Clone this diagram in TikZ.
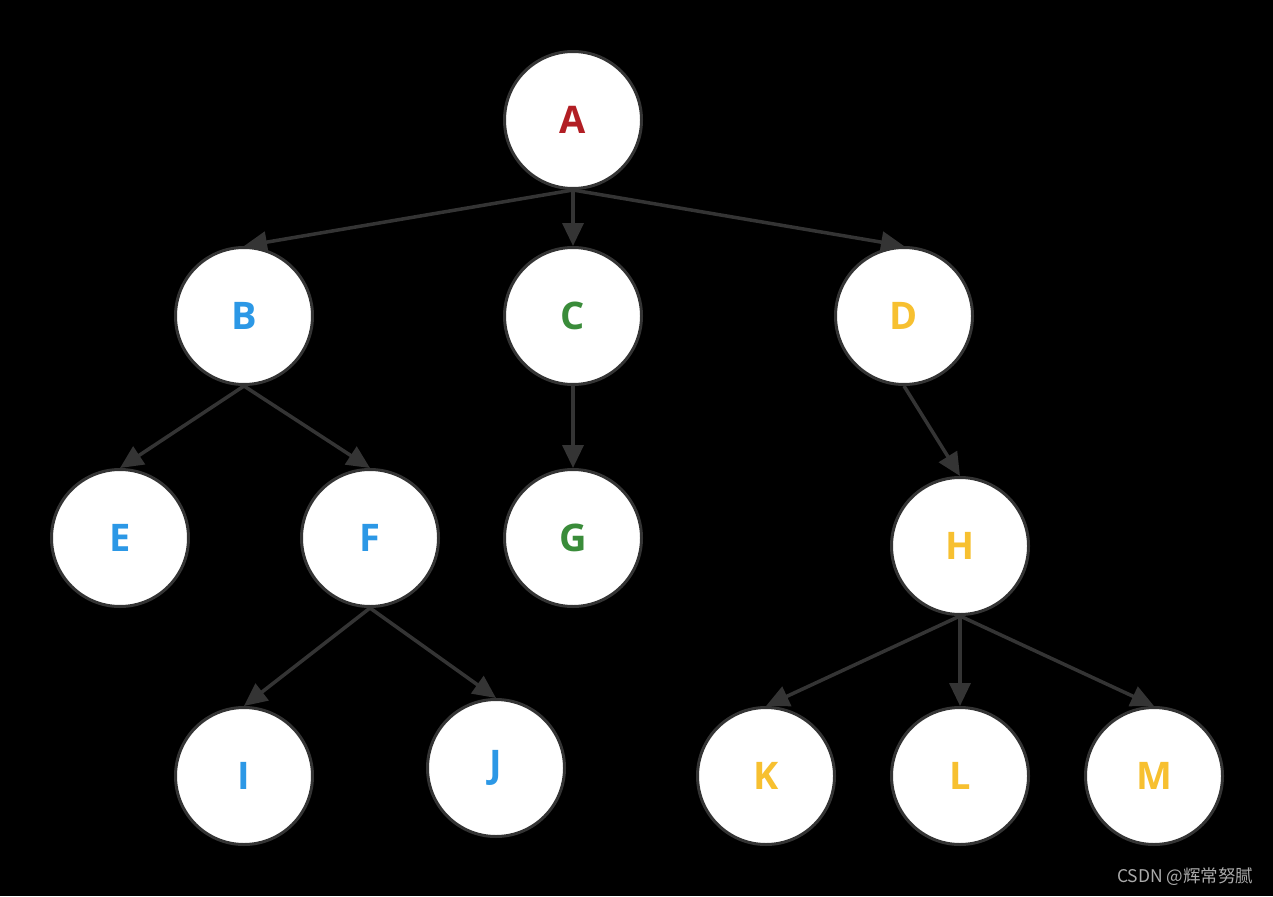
\documentclass[tikz,border=0pt]{standalone}
\usepackage{fontspec}
\setmainfont{Open Sans}
\newfontfamily\cjk{Noto Sans CJK SC}
\usetikzlibrary{arrows.meta}
\definecolor{edgegray}{RGB}{52,52,52}
\definecolor{cred}{RGB}{178,30,36}
\definecolor{cblue}{RGB}{44,152,230}
\definecolor{cgreen}{RGB}{58,140,58}
\definecolor{cyellow}{RGB}{247,192,48}
\definecolor{wmark}{RGB}{170,170,170}
\begin{document}
\begin{tikzpicture}[x=1pt,y=-1pt,
  treenode/.style={circle,draw=edgegray,line width=3pt,fill=white,minimum size=137pt,inner sep=0pt,font=\fontsize{38}{38}\selectfont\bfseries},
  edge/.style={draw=edgegray,line width=3.5pt,-{Triangle[length=23pt,width=21pt]}}]
\fill[black] (0,0) rectangle (1273,896);
\useasboundingbox (0,0) rectangle (1273,896);
\node[treenode,text=cred] (A) at (573,120) {A};
\node[treenode,text=cblue] (B) at (244,316) {B};
\node[treenode,text=cgreen] (C) at (573,316) {C};
\node[treenode,text=cyellow] (D) at (904,316) {D};
\node[treenode,text=cblue] (E) at (120,538) {E};
\node[treenode,text=cblue] (F) at (370,538) {F};
\node[treenode,text=cgreen] (G) at (573,538) {G};
\node[treenode,text=cyellow] (H) at (960,546) {H};
\node[treenode,text=cblue] (I) at (244,776) {I};
\node[treenode,text=cblue] (J) at (496,768) {J};
\node[treenode,text=cyellow] (K) at (766,776) {K};
\node[treenode,text=cyellow] (L) at (960,776) {L};
\node[treenode,text=cyellow] (M) at (1154,776) {M};
\foreach \p/\c in {A/B,A/C,A/D,B/E,B/F,C/G,D/H,F/I,F/J,H/K,H/L,H/M}
  \draw[edge] (\p.south) -- (\c.north);
\node[text=wmark,font=\cjk\fontsize{17.5}{17.5}\selectfont,anchor=east] (wm) at (1257,877) {CSDN @辉常努腻};
\end{tikzpicture}
\end{document}
